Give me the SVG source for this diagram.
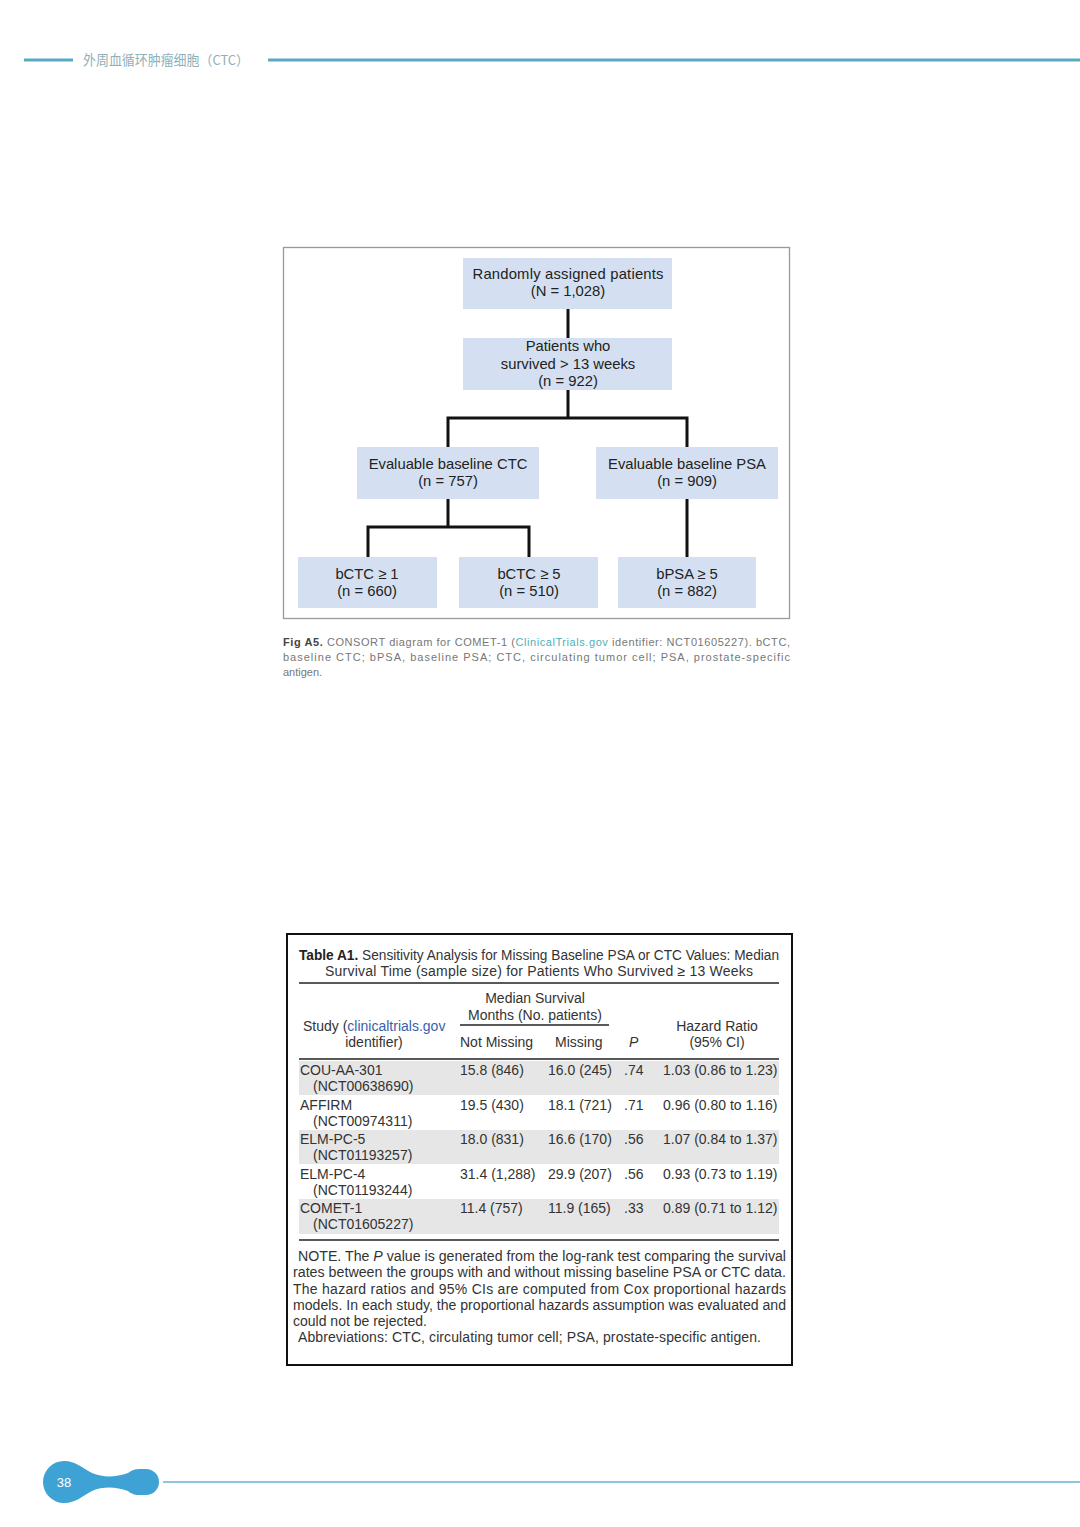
<svg xmlns="http://www.w3.org/2000/svg" width="1080" height="1527" viewBox="0 0 1080 1527">
<style>
.node rect{fill:#d4e0f1;}
.node text{font-family:"Liberation Sans",Arial,sans-serif;font-size:14.8px;fill:#222;text-anchor:middle;}
.conn{stroke:#111;stroke-width:3;fill:none;}
.cap{font-family:"Liberation Sans",Arial,sans-serif;font-size:11px;fill:#777;}
.t{font-family:"Liberation Sans",Arial,sans-serif;font-size:14px;fill:#333;}
.mid{text-anchor:middle;}
.rule{stroke:#222;stroke-width:1.3;}
</style>
<rect width="1080" height="1527" fill="#fff"/>
<g id="header">
<line x1="24" y1="60" x2="73" y2="60" stroke="#5aa9c2" stroke-width="3"/>
<text x="83" y="65" font-family="'Noto Sans CJK SC',sans-serif" font-size="13.5" fill="#8fb0b8" textLength="166" lengthAdjust="spacingAndGlyphs">外周血循环肿瘤细胞（CTC）</text>
<line x1="268" y1="60" x2="1080" y2="60" stroke="#5aa9c2" stroke-width="3"/>
</g>
<rect x="283.5" y="247.5" width="506" height="371" fill="none" stroke="#999" stroke-width="1.3"/>
<g id="connectors">
<path class="conn" d="M568 309V338"/>
<path class="conn" d="M568 390V418M448 447V418H687V447"/>
<path class="conn" d="M448 499V527M368 557V527H529V557"/>
<path class="conn" d="M687 499V557"/>
</g>
<g id="n1" class="node"><rect x="463" y="258" width="209" height="51"/><text x="568" y="279" textLength="191" lengthAdjust="spacing">Randomly assigned patients</text><text x="568" y="296">(N = 1,028)</text></g>
<g id="n2" class="node"><rect x="463" y="338" width="209" height="52"/><text x="568" y="351">Patients who</text><text x="568" y="369">survived &gt; 13 weeks</text><text x="568" y="386">(n = 922)</text></g>
<g id="n3" class="node"><rect x="357" y="447" width="182" height="52"/><text x="448" y="469">Evaluable baseline CTC</text><text x="448" y="486">(n = 757)</text></g>
<g id="n4" class="node"><rect x="596" y="447" width="182" height="52"/><text x="687" y="469">Evaluable baseline PSA</text><text x="687" y="486">(n = 909)</text></g>
<g id="n5" class="node"><rect x="298" y="557" width="139" height="51"/><text x="367" y="579">bCTC ≥ 1</text><text x="367" y="596">(n = 660)</text></g>
<g id="n6" class="node"><rect x="459" y="557" width="139" height="51"/><text x="529" y="579">bCTC ≥ 5</text><text x="529" y="596">(n = 510)</text></g>
<g id="n7" class="node"><rect x="618" y="557" width="138" height="51"/><text x="687" y="579">bPSA ≥ 5</text><text x="687" y="596">(n = 882)</text></g>
<g id="caption">
<text class="cap" x="283" y="646" textLength="507" lengthAdjust="spacing"><tspan font-weight="bold" fill="#444">Fig A5.</tspan> CONSORT diagram for COMET-1 (<tspan fill="#4fb0b8">ClinicalTrials.gov</tspan> identifier: NCT01605227). bCTC,</text>
<text class="cap" x="283" y="661" textLength="507" lengthAdjust="spacing">baseline CTC; bPSA, baseline PSA; CTC, circulating tumor cell; PSA, prostate-specific</text>
<text class="cap" x="283" y="676">antigen.</text>
</g>
<g id="table">
<rect x="287" y="934" width="505" height="431" fill="#fff" stroke="#111" stroke-width="2"/>
<rect x="299" y="1061" width="480" height="34" fill="#e6e6e6"/>
<rect x="299" y="1130" width="480" height="34" fill="#e6e6e6"/>
<rect x="299" y="1199" width="480" height="35" fill="#e6e6e6"/>
<text class="t" x="299" y="960" textLength="480" lengthAdjust="spacingAndGlyphs"><tspan font-weight="bold" fill="#222">Table A1.</tspan> Sensitivity Analysis for Missing Baseline PSA or CTC Values: Median</text>
<text class="t" x="325" y="976" textLength="428" lengthAdjust="spacing">Survival Time (sample size) for Patients Who Survived ≥ 13 Weeks</text>
<line class="rule" x1="299" y1="983" x2="779" y2="983"/>
<text class="t mid" x="535" y="1003">Median Survival</text>
<text class="t mid" x="535" y="1020">Months (No. patients)</text>
<line class="rule" x1="460" y1="1025" x2="609" y2="1025"/>
<text class="t" x="303" y="1031">Study (<tspan fill="#3a5fa8">clinicaltrials.gov</tspan></text>
<text class="t mid" x="374" y="1047">identifier)</text>
<text class="t" x="460" y="1047">Not Missing</text>
<text class="t" x="555" y="1047">Missing</text>
<text class="t" x="629" y="1047" font-style="italic">P</text>
<text class="t mid" x="717" y="1031">Hazard Ratio</text>
<text class="t mid" x="717" y="1047">(95% CI)</text>
<line class="rule" x1="299" y1="1059" x2="779" y2="1059"/>
<g id="rows">
<text class="t" x="300" y="1075">COU-AA-301</text><text class="t" x="313" y="1091">(NCT00638690)</text>
<text class="t" x="460" y="1075">15.8 (846)</text><text class="t" x="548" y="1075">16.0 (245)</text><text class="t" x="624" y="1075">.74</text><text class="t" x="663" y="1075">1.03 (0.86 to 1.23)</text>
<text class="t" x="300" y="1110">AFFIRM</text><text class="t" x="313" y="1126">(NCT00974311)</text>
<text class="t" x="460" y="1110">19.5 (430)</text><text class="t" x="548" y="1110">18.1 (721)</text><text class="t" x="624" y="1110">.71</text><text class="t" x="663" y="1110">0.96 (0.80 to 1.16)</text>
<text class="t" x="300" y="1144">ELM-PC-5</text><text class="t" x="313" y="1160">(NCT01193257)</text>
<text class="t" x="460" y="1144">18.0 (831)</text><text class="t" x="548" y="1144">16.6 (170)</text><text class="t" x="624" y="1144">.56</text><text class="t" x="663" y="1144">1.07 (0.84 to 1.37)</text>
<text class="t" x="300" y="1179">ELM-PC-4</text><text class="t" x="313" y="1195">(NCT01193244)</text>
<text class="t" x="460" y="1179">31.4 (1,288)</text><text class="t" x="548" y="1179">29.9 (207)</text><text class="t" x="624" y="1179">.56</text><text class="t" x="663" y="1179">0.93 (0.73 to 1.19)</text>
<text class="t" x="300" y="1213">COMET-1</text><text class="t" x="313" y="1229">(NCT01605227)</text>
<text class="t" x="460" y="1213">11.4 (757)</text><text class="t" x="548" y="1213">11.9 (165)</text><text class="t" x="624" y="1213">.33</text><text class="t" x="663" y="1213">0.89 (0.71 to 1.12)</text>
</g>
<line class="rule" x1="299" y1="1240" x2="779" y2="1240"/>
<text class="t" x="298" y="1261" textLength="488" lengthAdjust="spacingAndGlyphs">NOTE. The <tspan font-style="italic">P</tspan> value is generated from the log-rank test comparing the survival</text>
<text class="t" x="293" y="1277" textLength="493" lengthAdjust="spacingAndGlyphs">rates between the groups with and without missing baseline PSA or CTC data.</text>
<text class="t" x="293" y="1294" textLength="493" lengthAdjust="spacing">The hazard ratios and 95% CIs are computed from Cox proportional hazards</text>
<text class="t" x="293" y="1310" textLength="493" lengthAdjust="spacingAndGlyphs">models. In each study, the proportional hazards assumption was evaluated and</text>
<text class="t" x="293" y="1326">could not be rejected.</text>
<text class="t" x="298" y="1342" textLength="463" lengthAdjust="spacing">Abbreviations: CTC, circulating tumor cell; PSA, prostate-specific antigen.</text>
</g>
<g id="footer">
<line x1="163" y1="1482" x2="1080" y2="1482" stroke="#8cc8dc" stroke-width="2"/>
<path d="M64 1461 C76 1461 82 1468 92 1473 C104 1478 116 1477 128 1473 C134 1468 139 1469 146 1469 A13 13 0 0 1 146 1495 C139 1495 134 1496 128 1491 C116 1487 104 1486 92 1491 C82 1496 76 1503 64 1503 A21 21 0 0 1 64 1461 Z" fill="#3fa2d4"/>
<text x="64" y="1487" font-family="'Liberation Sans',Arial,sans-serif" font-size="13" fill="#fff" text-anchor="middle">38</text>
</g>
</svg>
